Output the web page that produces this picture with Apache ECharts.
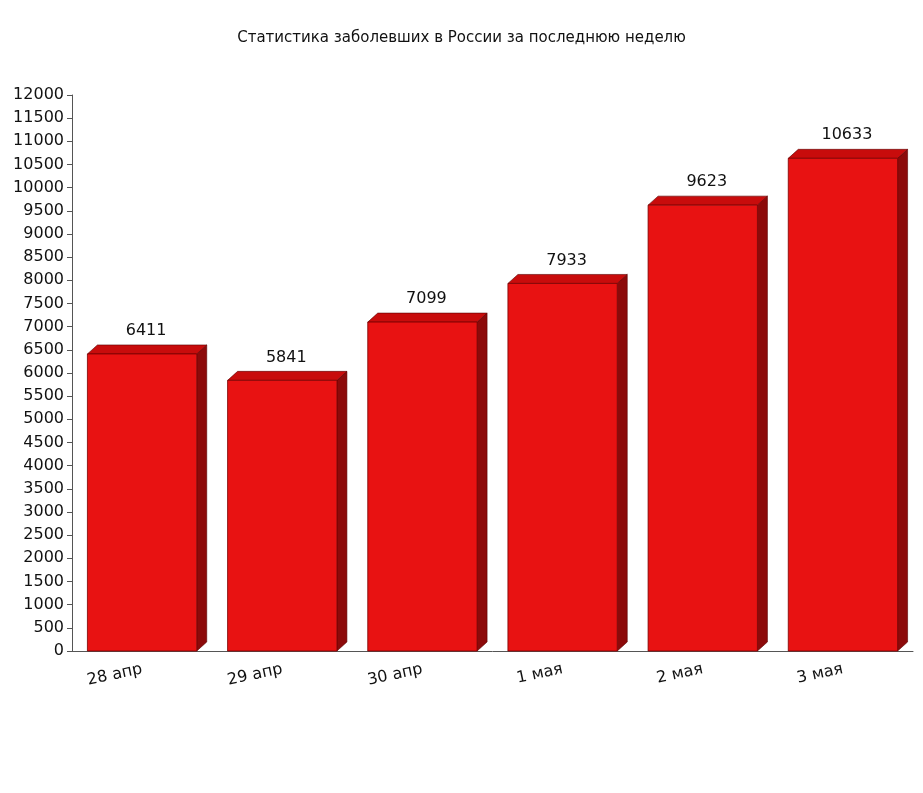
<!DOCTYPE html>
<html><head><meta charset="utf-8">
<script src="https://cdn.jsdelivr.net/npm/echarts@6/dist/echarts.min.js"></script>
<style>html,body{margin:0;background:#fff}#c{width:923px;height:793px}</style>
</head><body><div id="c"></div>
<script>
// Статистика заболевших
const days = ['28 апр', '29 апр', '30 апр', '1 мая', '2 мая', '3 мая'];
const cases = [6411, 5841, 7099, 7933, 9623, 10633];

const chart = echarts.init(document.getElementById('c'));
const DX = 10, DY = 9;

function renderBar(params, api) {
    const base = api.coord([api.value(0), 0]);
    const top = api.coord([api.value(0), api.value(1)]);
    const w = api.size([1, 0])[0] * 0.78;
    const x0 = base[0] - w / 2, x1 = x0 + w;
    const yT = top[1], yB = base[1];
    return {
        type: 'group',
        children: [
            { type: 'polygon', shape: { points: [[x1, yT], [x1 + DX, yT - DY], [x1 + DX, yB - DY], [x1, yB]] },
              style: { fill: '#8c0a0a', stroke: '#5a0000', lineWidth: 0.6 } },
            { type: 'polygon', shape: { points: [[x0, yT], [x0 + DX, yT - DY], [x1 + DX, yT - DY], [x1, yT]] },
              style: { fill: '#c80c0c', stroke: '#5a0000', lineWidth: 0.6 } },
            { type: 'rect', shape: { x: x0, y: yT, width: w, height: yB - yT },
              style: { fill: '#e81212', stroke: '#7a0000', lineWidth: 0.8 } },
            { type: 'text', style: { text: String(api.value(1)), x: (x0 + x1) / 2 + 4, y: yT - DY - 6,
              align: 'center', verticalAlign: 'bottom', font: '16px "DejaVu Sans"', fill: '#111' } }
        ]
    };
}

chart.setOption({
    animation: false,
    title: {
        text: 'Статистика заболевших в России за последнюю неделю',
        left: 'center', top: 26,
        textStyle: { fontSize: 15, fontWeight: 'normal', color: '#111', fontFamily: 'DejaVu Sans' }
    },
    grid: { left: 72, right: 10, top: 95, bottom: 142 },
    xAxis: {
        type: 'category', data: days,
        axisLine: { lineStyle: { color: '#555' } },
        axisTick: { show: false },
        axisLabel: { rotate: 12, fontSize: 16, color: '#111', margin: 18, fontFamily: 'DejaVu Sans' }
    },
    yAxis: {
        type: 'value', min: 0, max: 12000, interval: 500,
        axisLine: { show: true, lineStyle: { color: '#555' } },
        axisTick: { show: true, length: 5, lineStyle: { color: '#555' } },
        splitLine: { show: false },
        axisLabel: { fontSize: 16, color: '#111', margin: 8, fontFamily: 'DejaVu Sans', formatter: v => String(v) }
    },
    series: [{
        type: 'custom',
        renderItem: renderBar,
        data: cases.map((v, i) => [i, v])
    }]
});
</script></body></html>
